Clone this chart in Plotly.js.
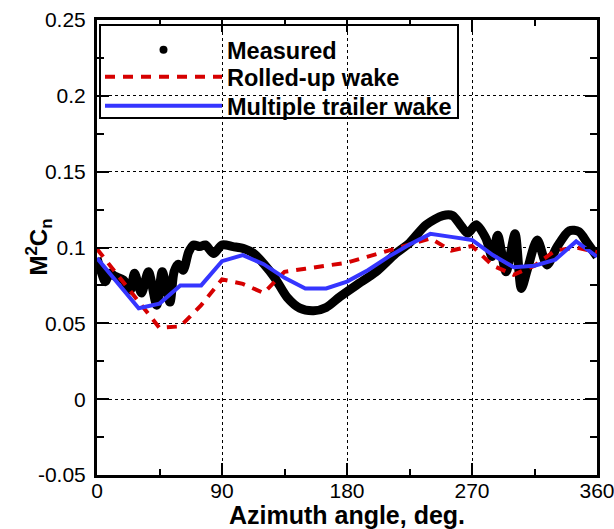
<!DOCTYPE html>
<html>
<head>
<meta charset="utf-8">
<script src="https://cdn.plot.ly/plotly-3.0.1.min.js"></script>
<style>html,body{margin:0;padding:0;background:#fff;}#chart{width:614px;height:529px;}</style>
</head>
<body>
<div id="chart"></div>
<script>
// Measured data (azimuth deg, M^2 Cn)
var measuredAz  = [0, 3, 6, 9, 13, 19, 24, 27, 32, 37, 43, 47, 52.5, 55.5, 58.5, 62, 66, 69.5, 74, 78, 84, 90, 98, 106, 113, 120, 128, 137, 146, 156, 165, 175, 187, 201, 215, 225, 237, 249, 256, 262.5, 267, 273, 280, 284.5, 288.5, 294.5, 301, 305.5, 310, 317, 324, 331, 340, 347, 353, 360];
var measuredVal = [0.093, 0.084, 0.0775, 0.083, 0.081, 0.0786, 0.072, 0.083, 0.070, 0.084, 0.062, 0.084, 0.064, 0.084, 0.089, 0.085, 0.097, 0.1017, 0.1006, 0.1017, 0.096, 0.1017, 0.1006, 0.0992, 0.096, 0.0893, 0.080, 0.067, 0.060, 0.0583, 0.0605, 0.0676, 0.0753, 0.084, 0.096, 0.103, 0.115, 0.121, 0.121, 0.1138, 0.1094, 0.115, 0.106, 0.094, 0.108, 0.084, 0.109, 0.073, 0.086, 0.105, 0.0885, 0.100, 0.111, 0.1105, 0.103, 0.094];

// Rolled-up wake model
var rolledAz  = [0, 15, 30, 45, 60, 75, 90, 105, 120, 135, 150, 165, 180, 195, 210, 225, 240, 255, 270, 285, 300, 315, 330, 345, 360];
var rolledVal = [0.099, 0.082, 0.065, 0.047, 0.048, 0.062, 0.079, 0.076, 0.070, 0.084, 0.086, 0.088, 0.090, 0.094, 0.098, 0.102, 0.106, 0.098, 0.101, 0.088, 0.082, 0.088, 0.098, 0.100, 0.097];

// Multiple trailer wake model
var trailerAz  = [0, 15, 30, 45, 60, 75, 90, 105, 120, 135, 150, 165, 180, 195, 210, 225, 240, 255, 270, 285, 300, 315, 330, 345, 360];
var trailerVal = [0.093, 0.0765, 0.060, 0.063, 0.075, 0.075, 0.091, 0.095, 0.089, 0.080, 0.073, 0.073, 0.0775, 0.085, 0.094, 0.102, 0.109, 0.107, 0.105, 0.095, 0.087, 0.088, 0.092, 0.104, 0.094];

var seriesNames = ["Measured", "Rolled-up wake", "Multiple trailer wake"];
var xTickVals = [0, 90, 180, 270, 360];
var xTickText = ["0", "90", "180", "270", "360"];
var yTickVals = [-0.05, 0, 0.05, 0.1, 0.15, 0.2, 0.25];
var yTickText = ["-0.05", "0", "0.05", "0.1", "0.15", "0.2", "0.25"];

var traces = [
  {x: [null], y: [null], type: "scatter", mode: "markers", name: seriesNames[0],
   legend: "legend", marker: {color: "#000", size: 8}, hoverinfo: "skip"},
  {x: measuredAz, y: measuredVal, type: "scatter", mode: "lines", showlegend: false,
   line: {color: "#000", width: 9, shape: "spline", smoothing: 0.8}},
  {x: rolledAz, y: rolledVal, type: "scatter", mode: "lines", name: seriesNames[1],
   legend: "legend2", line: {color: "#d60000", width: 4, dash: "10px,8px"}},
  {x: trailerAz, y: trailerVal, type: "scatter", mode: "lines", name: seriesNames[2],
   legend: "legend3", line: {color: "#3535ff", width: 4}}
];

var axisCommon = {
  showline: true, linecolor: "#000", linewidth: 3, mirror: "ticks",
  ticks: "inside", ticklen: 12, tickwidth: 2, tickcolor: "#000",
  showgrid: true, gridcolor: "#000", gridwidth: 1, griddash: "dot",
  zeroline: false, ticklabeloverflow: "allow",
  tickfont: {family: "Liberation Sans, Arial, sans-serif", size: 21, color: "#000"}
};

function legendAt(yc) {
  return {
    x: 0.006, y: yc, xanchor: "left", yanchor: "middle",
    bgcolor: "rgba(0,0,0,0)", borderwidth: 0,
    font: {family: "Liberation Sans, Arial, sans-serif", size: 23.5, color: "#000", weight: "bold"},
    itemwidth: 117
  };
}

var layout = {
  width: 614, height: 529,
  margin: {l: 97, r: 17, t: 20, b: 54},
  paper_bgcolor: "#fff", plot_bgcolor: "#fff",
  showlegend: true,
  xaxis: Object.assign({}, axisCommon, {
    range: [0, 360], tickmode: "array", tickvals: xTickVals, ticktext: xTickText,
    minor: {dtick: 45, ticks: "inside", ticklen: 6, tickwidth: 2, tickcolor: "#000", showgrid: false},
    ticklabelstandoff: -5,
    title: {text: "<b>Azimuth angle, deg.</b>", standoff: 2,
            font: {family: "Liberation Sans, Arial, sans-serif", size: 25, color: "#000"}}
  }),
  yaxis: Object.assign({}, axisCommon, {
    range: [-0.05, 0.25], tickmode: "array", tickvals: yTickVals, ticktext: yTickText,
    minor: {dtick: 0.025, ticks: "inside", ticklen: 7, tickwidth: 2, tickcolor: "#000", showgrid: false},
    ticklabelstandoff: 4
  }),
  legend: legendAt(0.934),
  legend2: legendAt(0.8747),
  legend3: legendAt(0.811),
  shapes: [{
    type: "rect", xref: "paper", yref: "paper", layer: "between",
    x0: 0.006, x1: 0.722, y0: 0.7846, y1: 0.989,
    line: {color: "#000", width: 2}, fillcolor: "#fff"
  }],
  annotations: [{
    text: "<b>M<sup>2</sup>C<sub>n</sub></b>", xref: "paper", yref: "paper",
    x: -0.118, y: 0.5, xanchor: "center", yanchor: "middle", textangle: -90, showarrow: false,
    font: {family: "Liberation Sans, Arial, sans-serif", size: 24, color: "#000"}
  }]
};

Plotly.newPlot("chart", traces, layout, {staticPlot: true, displayModeBar: false});
</script>
</body>
</html>
